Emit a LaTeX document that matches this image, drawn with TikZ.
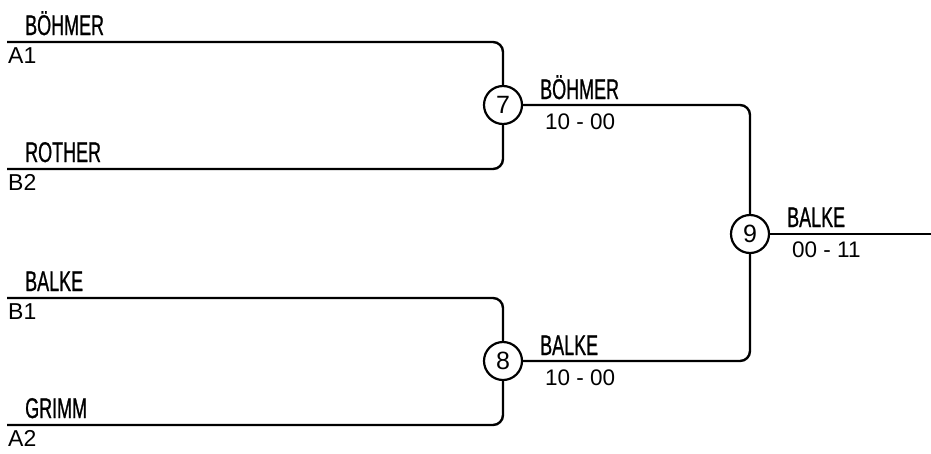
\documentclass[tikz,border=0pt]{standalone}
\usepackage{fontspec}
\setmainfont{Liberation Sans}
\newfontfamily\namefont[FakeStretch=0.63,FakeBold=0.8]{Liberation Sans}
\begin{document}
\begin{tikzpicture}[x=1pt,y=-1pt,
  wire/.style={line width=2.4pt, rounded corners=10pt},
  match/.style={circle, draw, line width=2.2pt, fill=white, minimum size=38pt, inner sep=0pt, font=\fontsize{25}{27}\selectfont},
  player/.style={anchor=base west, inner sep=0pt, font=\namefont\fontsize{28.5}{30}\selectfont},
  seed/.style={anchor=base west, inner sep=0pt, font=\fontsize{23}{25}\selectfont},
  score/.style={anchor=base west, inner sep=0pt, font=\fontsize{22.5}{25}\selectfont}]
\useasboundingbox (0,0) rectangle (931,453);
% line ends
\coordinate (a1) at (7,42);
\coordinate (b2) at (7,169);
\coordinate (b1) at (7,298);
\coordinate (a2) at (7,425);
\coordinate (fin) at (931,234);
% matches
\node[match] (m7) at (503,105) {7};
\node[match] (m8) at (503,361) {8};
\node[match] (m9) at (750,234) {9};
% connectors
\draw[wire] (a1) -| (m7.north);
\draw[wire] (b2) -| (m7.south);
\draw[wire] (b1) -| (m8.north);
\draw[wire] (a2) -| (m8.south);
\draw[wire] (m7.east) -| (m9.north);
\draw[wire] (m8.east) -| (m9.south);
\draw[wire] (m9.east) -- (fin);
% names
\node[player] (n1) at (25,35) {BÖHMER};
\node[player] (n2) at (25,162) {ROTHER};
\node[player] (n3) at (25,291) {BALKE};
\node[player] (n4) at (25,418) {GRIMM};
\node[player] (w7) at (540,99) {BÖHMER};
\node[player] (w8) at (540,355) {BALKE};
\node[player] (w9) at (787,227) {BALKE};
% seeds
\node[seed] (s1) at (8,63) {A1};
\node[seed] (s2) at (8,190) {B2};
\node[seed] (s3) at (8,319) {B1};
\node[seed] (s4) at (8,446) {A2};
% scores
\node[score] (r7) at (545,129) {10 - 00};
\node[score] (r8) at (545,385) {10 - 00};
\node[score] (r9) at (792,257) {00 - 11};
\end{tikzpicture}
\end{document}
